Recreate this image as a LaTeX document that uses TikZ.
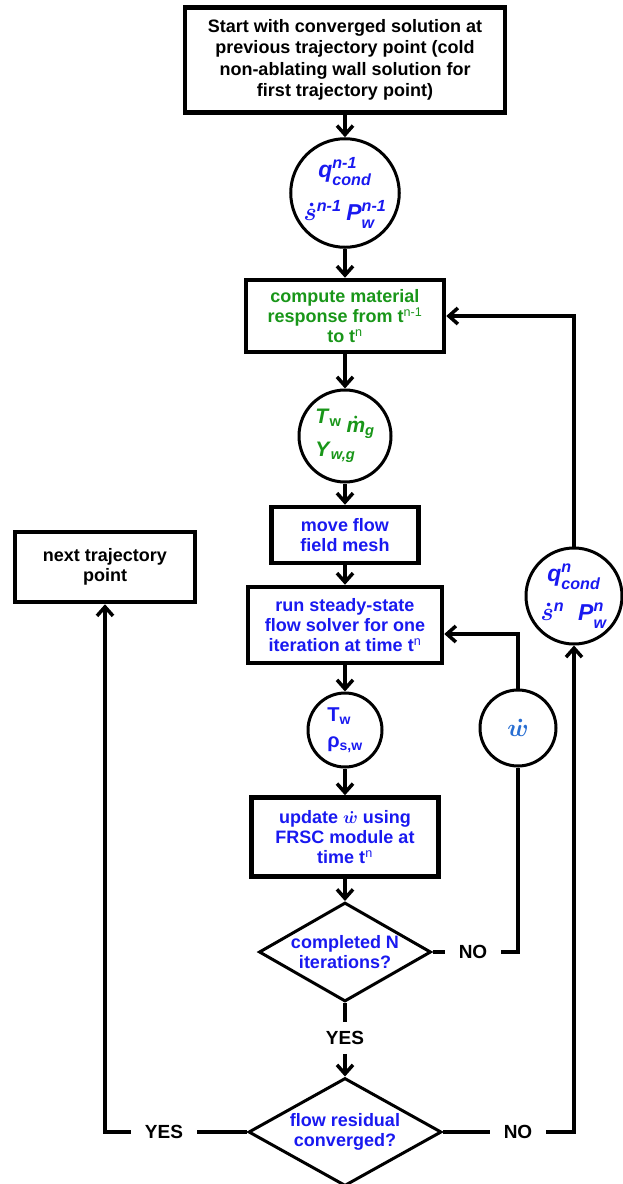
\documentclass[tikz,border=0pt]{standalone}
\usepackage{fontspec}
\usepackage{amsmath}
\setmainfont{Liberation Sans}
\usetikzlibrary{arrows.meta,shapes.geometric}
\definecolor{stepblue}{RGB}{25,25,240}
\definecolor{stepgreen}{RGB}{25,150,25}
\definecolor{rateblue}{RGB}{40,110,210}
\newcommand{\bsi}[1]{\textbf{\textit{#1}}}

\begin{document}
\begin{tikzpicture}[x=1pt,y=-1pt,
  every node/.style={font=\fontsize{18}{20}\selectfont\bfseries\boldmath},
  box/.style={rectangle,draw=black,line width=4.5pt,align=center,inner sep=2pt},
  circ/.style={circle,draw=black,line width=3pt,inner sep=0pt},
  dia/.style={diamond,draw=black,line width=3pt,inner sep=0pt},
  lab/.style={inner xsep=14pt,inner ysep=9pt,font=\fontsize{19}{21}\selectfont\bfseries},
  conn/.style={line width=3.5pt,-{Straight Barb[length=9pt,width=16pt]}},
  wire/.style={line width=3.5pt}]
\useasboundingbox (0,0) rectangle (622,1184);
\node (a) at (345,60) [box,minimum width=320,minimum height=105,font=\fontsize{18}{21.5}\selectfont\bfseries]
 {Start with converged solution at\\previous trajectory point (cold\\non-ablating wall solution for\\first trajectory point)};
\node (b) at (345,193) [circ,minimum size=102,text=stepblue,align=center,font=\fontsize{23}{25}\selectfont\bfseries\boldmath]
 {$\bsi{q}^{\bsi{n-1}}_{\bsi{cond}}$\\[14pt]$\dot{s}^{\bsi{n-1}}\,\bsi{P}^{\bsi{n-1}}_{\bsi{w}}$};
\node (c) at (345,316) [box,minimum width=198,minimum height=72,text=stepgreen]
 {compute material\\response from t\textsuperscript{\mdseries n-1}\\to t\textsuperscript{\mdseries n}};
\node (d) at (345,436) [circ,minimum size=92,text=stepgreen,align=left,font=\fontsize{21}{23}\selectfont\bfseries\boldmath]
 {$\bsi{T}_{\textbf{w}}$\hspace{5pt}\raisebox{-9pt}{$\dot{\bsi{m}}_{\bsi{g}}$}\\[2pt]$\bsi{Y}_{\bsi{w,g}}$};
\node (e) at (345,535) [box,minimum width=147,minimum height=56,text=stepblue]
 {move flow\\field mesh};
\node (f) at (345,625) [box,minimum width=194,minimum height=76,text=stepblue]
 {run steady-state\\flow solver for one\\iteration at time t\textsuperscript{\mdseries n}};
\node (g) at (345,730) [circ,minimum size=74,text=stepblue,align=left,font=\fontsize{20}{26}\selectfont\bfseries]
 {T\textsubscript{w}\\ρ\textsubscript{s,w}};
\node (h) at (518,728) [circ,minimum size=76,text=rateblue,font=\fontsize{24}{26}\selectfont\bfseries\boldmath]
 {$\dot{w}$};
\node (i) at (345,837) [box,minimum width=187,minimum height=79,text=stepblue]
 {update $\dot{w}$ using\\FRSC module at\\time t\textsuperscript{\mdseries n}};
\node (j) at (345,952) [dia,minimum width=172,minimum height=99,
 label={[text=stepblue,align=center]center:completed N\\iterations?}] {};
\node (k) at (345,1132) [dia,minimum width=193,minimum height=108,
 label={[text=stepblue,align=center]center:flow residual\\converged?}] {};
\node (l) at (105,567) [box,minimum width=180,minimum height=70]
 {next trajectory\\point};
\node (m) at (574,596) [circ,minimum size=96,text=stepblue,align=center,font=\fontsize{23}{25}\selectfont\bfseries\boldmath]
 {$\bsi{q}^{\bsi{n}}_{\bsi{cond}}$\\[12pt]$\dot{s}^{\bsi{n}}$\hspace{14pt}$\bsi{P}^{\bsi{n}}_{\bsi{w}}$};
% YES / NO labels
\node (n1) at (473,952) [lab] {NO};
\node (y1) at (345,1038) [lab] {YES};
\node (y2) at (164,1132) [lab] {YES};
\node (n2) at (518,1132) [lab] {NO};
% main column
\draw[conn] (a) -- (b);
\draw[conn] (b) -- (c);
\draw[conn] (c) -- (d);
\draw[conn] (d) -- (e);
\draw[conn] (e) -- (f);
\draw[conn] (f) -- (g);
\draw[conn] (g) -- (i);
\draw[conn] (i) -- (j);
\draw[wire] (j) -- (y1);
\draw[conn] (y1) -- (k);
% inner loop
\draw[wire] (j) -- (n1);
\draw[wire] (n1) -| (h);
\draw[conn] (h) |- ([yshift=-9pt]f.east);
% outer loop
\draw[wire] (k) -- (n2);
\draw[conn] (n2) -| (m);
\draw[conn] (m) |- (c);
% exit
\draw[wire] (k) -- (y2);
\draw[conn] (y2) -| (l);
\end{tikzpicture}
\end{document}
